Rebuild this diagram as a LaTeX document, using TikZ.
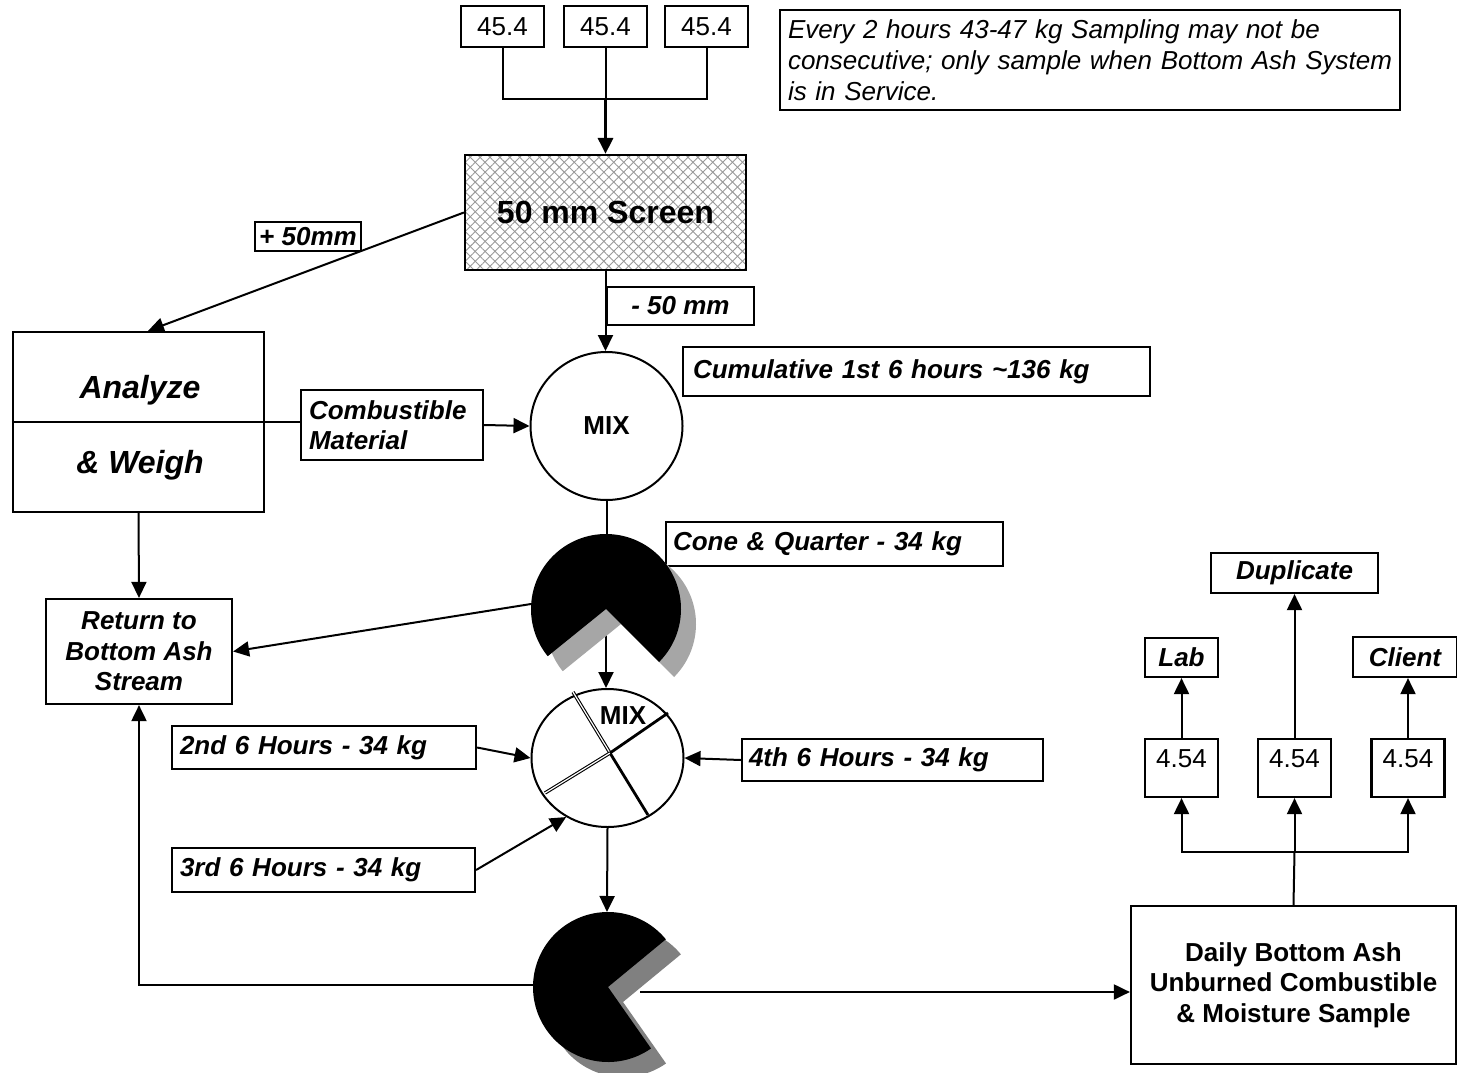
\documentclass[tikz,border=0pt]{standalone}
\usepackage{fontspec}
\setmainfont{Liberation Sans}
\usetikzlibrary{arrows.meta,shapes.geometric,patterns.meta,calc}
\begin{document}
\begin{tikzpicture}[x=1pt,y=-1pt,
  rg/.style={font=\fontsize{26pt}{30pt}\selectfont},
  bi/.style={font=\fontsize{26pt}{30.5pt}\selectfont\bfseries\itshape},
  bu/.style={font=\fontsize{26pt}{30.5pt}\selectfont\bfseries},
  it/.style={font=\fontsize{26pt}{31pt}\selectfont\itshape},
  big/.style={font=\fontsize{32pt}{36pt}\selectfont\bfseries\itshape},
  box/.style={draw, line width=2.2pt, inner sep=0pt},
  lbox/.style={box, align=left, inner xsep=8pt},
  conn/.style={line width=2pt},
  arr/.style={conn, -{Triangle[length=16pt,width=15pt]}},
  oval/.style={draw, ellipse, line width=2pt, inner sep=0pt},
  hatchA/.style={pattern={Lines[angle=45,distance=7pt,line width=0.9pt]}, pattern color=black!40},
  hatchB/.style={pattern={Lines[angle=-45,distance=7pt,line width=0.9pt]}, pattern color=black!40},
]
\useasboundingbox (0,0) rectangle (1457,1073);
\fill[white] (0,0) rectangle (1457,1073);

% top sample boxes
\node[box, rg, minimum width=83pt, minimum height=41pt] (n1) at (502.5,26.5) {45.4};
\node[box, rg, minimum width=83pt, minimum height=41pt] (n2) at (605.5,26.5) {45.4};
\node[box, rg, minimum width=83pt, minimum height=41pt] (n3) at (706.5,26.5) {45.4};

\node[lbox, it, text width=604pt, minimum height=100pt] (note) at (1090,60)
  {\mbox{Every 2 hours 43-47 kg Sampling may not be}\\\mbox{consecutive; only sample when Bottom Ash System}\\\mbox{is in Service.}};

% screen
\fill[hatchA] (465,155) rectangle (746,270);
\fill[hatchB] (465,155) rectangle (746,270);
\node[box, font=\fontsize{32pt}{36pt}\selectfont\bfseries, minimum width=281pt, minimum height=115pt] (screen) at (605.5,212.5) {50 mm Screen};

\node[box, bi, minimum width=106pt, minimum height=29pt] (plus) at (308,236.5) {+ 50mm};
\node[box, bi, minimum width=147pt, minimum height=38pt] (minus) at (680.5,306) {- 50 mm};

% analyze & weigh
\node[box, minimum width=251pt, minimum height=180pt] (analyze) at (138.5,422) {};
\node[big, anchor=base] (an1) at (140,398) {Analyze};
\node[big, anchor=base] (an2) at (140,473) {\& Weigh};

\node[lbox, bi, text width=166pt, minimum height=70pt] (comb) at (392,425) {Combustible\\Material};

\node[oval, bu, minimum width=152pt, minimum height=148pt] (mix1) at (606.5,426) {MIX};
\node[lbox, bi, inner xsep=10pt, text width=447pt, minimum height=49pt] (cumul) at (916.5,371.5) {Cumulative 1st 6 hours \textasciitilde136 kg};

\node[lbox, bi, inner xsep=7pt, text width=323pt, minimum height=44pt] (cone) at (834.5,544) {Cone \& Quarter - 34 kg};

\node[box, bi, align=center, minimum width=186pt, minimum height=105pt] (ret) at (139,651.5) {Return to\\Bottom Ash\\Stream};

% second mix
\node[oval, minimum width=152pt, minimum height=138pt] (mix2) at (607.5,758) {};
\node[bu] (mixt) at (623,716) {MIX};
\draw[line width=1.1pt, double, double distance=1.2pt] (573,692) -- (610,753);
\draw[line width=2.8pt] (610,753) -- (648,815);
\draw[line width=1.1pt, double, double distance=1.2pt] (545,793) -- (610,753);
\draw[line width=2.8pt] (610,753) -- (668,713);

\node[lbox, bi, text width=288pt, minimum height=43pt] (second) at (324,747.5) {2nd 6 Hours - 34 kg};
\node[lbox, bi, text width=287pt, minimum height=44pt] (third) at (323.5,870) {3rd 6 Hours - 34 kg};
\node[lbox, bi, inner xsep=7pt, text width=287pt, minimum height=42pt] (fourth) at (892.5,760) {4th 6 Hours - 34 kg};

% right side
\node[box, bu, align=center, minimum width=325pt, minimum height=158pt] (daily) at (1293.5,985) {Daily Bottom Ash\\Unburned Combustible\\\& Moisture Sample};
\node[box, rg, minimum width=73pt, minimum height=58pt, text height=22pt, text depth=24pt] (s1) at (1181.5,768) {4.54};
\node[box, rg, minimum width=73pt, minimum height=58pt, text height=22pt, text depth=24pt] (s2) at (1294.5,768) {4.54};
\node[box, rg, minimum width=73pt, minimum height=58pt, text height=22pt, text depth=24pt] (s3) at (1408,768) {4.54};
\node[box, bi, minimum width=73pt, minimum height=39pt] (lab) at (1181.5,657.5) {Lab};
\node[box, bi, minimum width=167pt, minimum height=40pt] (dup) at (1294.5,573) {Duplicate};
\node[box, bi, minimum width=104pt, minimum height=40pt] (client) at (1405,657) {Client};

% coordinates
\coordinate (j) at (605.5,99);
\coordinate (pc1) at (606,609);
\coordinate (pc1w) at (531,604);
\coordinate (pc2) at (608,987);
\coordinate (pc2n) at (607,912);
\coordinate (pc2w) at (533,985);
\coordinate (pc2e) at (640,992);
\coordinate (br) at (1294.5,852);

% connectors
\draw[conn] (n1.south) |- (j) -| (n3.south);
\draw[conn] (n2.south) -- (j);
\draw[line width=3pt, -{Triangle[length=16pt,width=15pt]}] (j) -- (screen.north);
\draw[arr] (screen.west) -- ($(analyze.north)+(9.5,0)$);
\draw[arr] (screen.south) -- (screen.south |- mix1.north);
\draw[line width=2.2pt] (analyze.west) -- (analyze.east);
\draw[conn] (analyze.east) -- (analyze.east -| comb.west);
\draw[arr] (comb.east) -- (mix1.west);
\draw[arr] (analyze.south) -- (ret.north);
\draw[conn] (mix1.south) -- (mix1.south |- pc1);
\draw[arr] (pc1w) -- (ret.east);
\draw[arr] (pc1) -- (pc1 |- mix2.north);
\draw[arr] (second.east) -- (mix2.west);
\draw[arr] (third.east) -- (mix2.235);
\draw[arr] (fourth.west) -- (mix2.east);
\draw[arr] (mix2.south) -- (pc2n);
\draw[arr] (pc2w) -| (ret.south);
\draw[arr] (pc2e) -- (pc2e -| daily.west);
\draw[conn] (daily.north) -- (br);
\draw[arr] (br) -- (s2.south);
\draw[arr] (br) -| (s1.south);
\draw[arr] (br) -| (s3.south);
\draw[arr] (s1.north) -- (lab.south);
\draw[arr] (s2.north) -- (dup.south);
\draw[arr] (s3.north) -- (s3.north |- client.south);

% cone & quarter shapes
\fill[black!35] ($(pc1)+(15,15)$) -- ++(141:75) arc[start angle=141, end angle=405, radius=75] -- cycle;
\fill[black] (pc1) -- ++(141:75) arc[start angle=141, end angle=405, radius=75] -- cycle;
\fill[black!50] ($(pc2)+(15,15)$) -- ++(55:75) arc[start angle=55, end angle=320.5, radius=75] -- cycle;
\fill[black] (pc2) -- ++(55:75) arc[start angle=55, end angle=320.5, radius=75] -- cycle;
\end{tikzpicture}
\end{document}
